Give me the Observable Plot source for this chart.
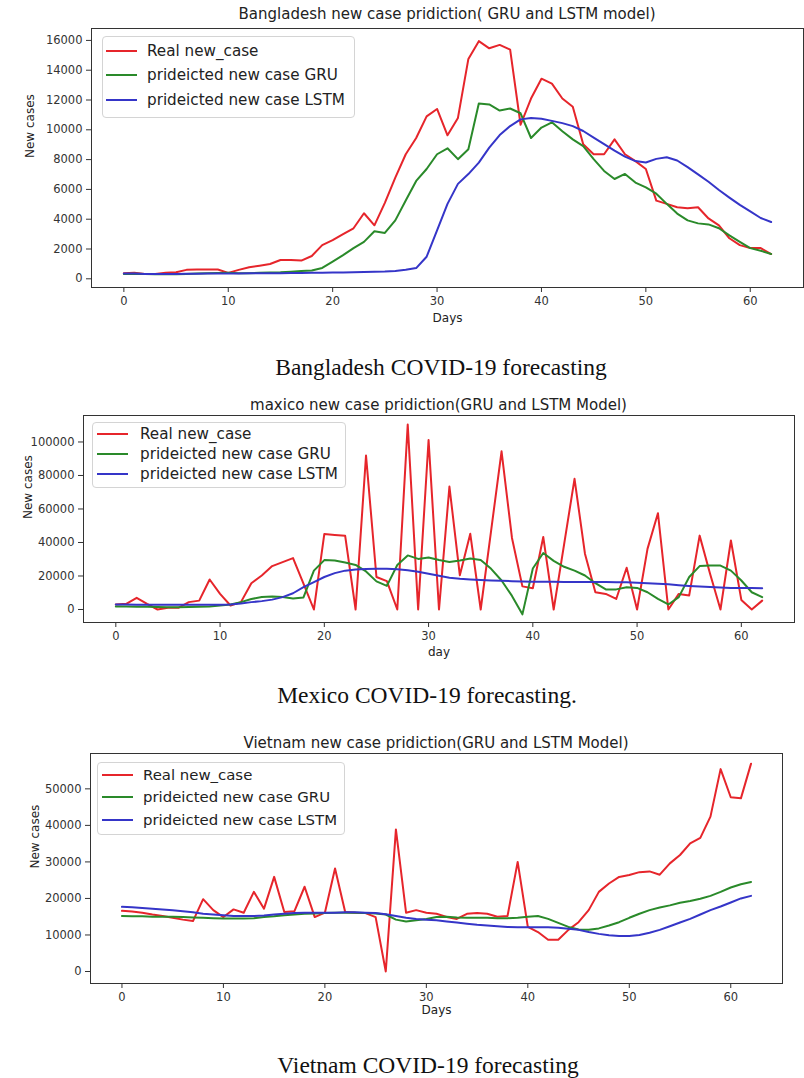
<!DOCTYPE html>
<html><head><meta charset="utf-8">
<script src="https://cdn.jsdelivr.net/npm/d3@7"></script>
<script src="https://cdn.jsdelivr.net/npm/@observablehq/plot@0.6"></script>
<style>
body{margin:0;background:#fff;}
#page{position:relative;width:804px;height:1078px;overflow:hidden;font-family:"DejaVu Sans",sans-serif;color:#222;}
.band{position:absolute;left:0;}
.title{position:absolute;white-space:nowrap;transform:translate(-50%,-50%);font-size:15px;color:#222;}
.caption{position:absolute;white-space:nowrap;transform:translate(-50%,-50%);font-family:"Liberation Serif","Times New Roman",serif;font-size:23.5px;color:#111;}
.legend{position:absolute;background:rgba(255,255,255,0.85);border:1px solid #d4d4d4;border-radius:4px;box-sizing:border-box;}
.lrow{position:absolute;left:0;white-space:nowrap;}
.lsw{position:absolute;height:2px;}
.ltx{position:absolute;transform:translateY(-50%);color:#222;}
</style>
</head><body><div id="page"></div>
<script>
// ---------- data ----------
const days = d3.range(63);
const seriesNames = ["Real new_case", "prideicted new case GRU", "prideicted new case LSTM"];
const colors = ["#e6252b", "#2a8a2a", "#3535c8"];
const xTicks = [0, 10, 20, 30, 40, 50, 60];

const bdReal = [380,400,330,330,400,440,600,620,620,620,400,600,770,880,990,1260,1260,1220,1530,2260,2590,
  3000,3390,4400,3590,5100,6790,8360,9450,10900,11400,9630,10800,14760,15950,15470,15700,15380,10340,12100,13430,
  13100,12100,11550,9030,8360,8360,9360,8360,7900,7370,5250,5030,4800,4730,4800,4050,3590,2720,2260,2060,2060,1660];
const bdGRU = [330,340,330,310,300,310,330,360,380,390,400,370,380,400,420,440,480,520,560,730,1150,
  1590,2060,2480,3190,3080,3920,5250,6570,7370,8360,8760,8030,8700,11770,11700,11290,11430,11110,9450,10150,
  10500,9900,9360,8900,8030,7240,6700,7040,6460,6130,5710,5030,4380,3920,3720,3650,3390,2920,2480,2060,1880,1660];
const bdLSTM = [350,360,330,320,320,330,340,340,350,350,360,360,370,370,380,380,390,390,400,410,420,
  430,440,450,470,490,530,600,720,1480,3250,5030,6370,7030,7800,8800,9650,10250,10700,10800,10740,
  10600,10450,10250,9920,9480,9040,8600,8200,7900,7810,8050,8160,7940,7500,7010,6510,5960,5450,4960,4520,4080,3810];
const bdYTicks = [0,2000,4000,6000,8000,10000,12000,14000,16000];

const mxReal = [3000,3400,7000,3400,0,1000,1000,4400,5300,17900,9300,2400,4400,15700,20300,25900,28300,30700,15400,0,45100,
  44500,44000,0,91900,19400,16900,0,110400,0,101200,0,73400,20400,45200,0,47100,94400,42700,13800,12700,
  43300,0,38900,78000,33300,10300,9300,6300,24900,0,36200,57500,0,9300,8400,44100,21300,0,41200,5700,0,5300];
const mxGRU = [1800,1800,1700,1600,1500,1400,1400,1500,1600,1800,2400,3000,4400,6300,7400,7800,7400,6600,7200,23200,29500,
  29300,28100,26600,22700,16800,14100,26600,32300,30200,31000,29500,28400,29300,30400,29500,24300,17300,8100,-2900,24500,
  33700,29000,25500,23200,20300,15700,12000,12000,13300,12900,10300,6300,3000,7400,19400,25900,26200,26200,23200,17300,10300,7400];
const mxLSTM = [3000,3000,2900,2900,2800,2800,2800,2800,2800,2800,2800,3000,3600,4400,5000,5900,7400,9700,13300,16400,19400,
  21700,23200,23900,24200,24300,24300,24000,23400,22500,21300,20100,18900,18300,17900,17600,17300,17100,16900,16700,16600,
  16500,16500,16400,16400,16400,16400,16400,16300,16200,16000,15700,15400,15000,14500,14100,13700,13400,13100,12900,12800,12800,12700];
const mxYTicks = [0,20000,40000,60000,80000,100000];

const vnReal = [16600,16400,16100,15600,15200,14700,14200,13800,19800,16800,14900,17000,16100,21800,17200,25900,16300,16500,23200,14900,16100,
  28200,16300,16100,16000,14900,0,38900,16100,16800,16100,15800,14900,14400,15800,16000,15800,15000,15200,30000,12200,
  10800,8700,8700,11400,13500,16800,21800,24100,25900,26400,27200,27400,26500,29600,31900,35100,36600,42400,55400,47700,47400,56900];
const vnGRU = [15200,15100,15100,15000,15000,15000,14900,14800,14700,14600,14500,14500,14500,14600,14900,15100,15400,15600,15800,15900,16000,
  16100,16100,16100,16000,15900,15600,14200,13700,14000,14400,14900,15000,14800,14700,14700,14700,14600,14600,14700,15000,
  15200,14400,13300,12200,11500,11400,11800,12600,13500,14700,15800,16800,17500,18100,18800,19300,19900,20700,21800,23000,23900,24500];
const vnLSTM = [17700,17600,17400,17200,17000,16800,16500,16200,15800,15600,15400,15200,15200,15200,15300,15600,15800,16000,16100,16100,16100,
  16100,16200,16200,16100,16000,15700,15200,14700,14400,14200,14000,13700,13400,13100,12800,12600,12400,12200,12100,12100,
  12100,12100,12000,11700,11400,10800,10300,9900,9700,9700,10000,10600,11400,12400,13400,14400,15600,16800,17800,18900,20000,20700];
const vnYTicks = [0,10000,20000,30000,40000,50000];

const charts = [
  {title: "Bangladesh new case pridiction( GRU and LSTM model)", caption: "Bangladesh COVID-19 forecasting",
   series: [bdReal, bdGRU, bdLSTM], yTicks: bdYTicks, xLabel: "Days", yLabel: "New cases"},
  {title: "maxico new case pridiction(GRU and LSTM Model)", caption: "Mexico COVID-19 forecasting.",
   series: [mxReal, mxGRU, mxLSTM], yTicks: mxYTicks, xLabel: "day", yLabel: "New cases"},
  {title: "Vietnam new case pridiction(GRU and LSTM Model)", caption: "Vietnam COVID-19 forecasting",
   series: [vnReal, vnGRU, vnLSTM], yTicks: vnYTicks, xLabel: "Days", yLabel: "New cases"}
];

// ---------- layout ----------
const layout = [
  {top: 0, height: 340, ml: 91, mr: 1, mt: 28, mb: 53, xDomain: [-3.1, 65.1], yDomain: [-584, 16800],
   xLabelDy: 34, yLabelDx: -61, titleXY: [447, 14], captionXY: [441, 367],
   legend: {x: 102, y: 36, w: 253, h: 82, rows: [50.7, 75, 100], lx0: 106, lx1: 137, tx: 147, fs: 15.2}},
  {top: 380, height: 290, ml: 83, mr: 10, mt: 35, mb: 48, xDomain: [-3.1, 65.1], yDomain: [-7760, 115800],
   xLabelDy: 33, yLabelDx: -55, titleXY: [438.5, 405], captionXY: [427, 695],
   legend: {x: 92, y: 422, w: 254, h: 66, rows: [434, 454, 474], lx0: 97, lx1: 128, tx: 140, fs: 15.2}},
  {top: 720, height: 310, ml: 90, mr: 22, mt: 33, mb: 47, xDomain: [-3.1, 65.1], yDomain: [-3285, 59680],
   xLabelDy: 30, yLabelDx: -55, titleXY: [436, 743], captionXY: [428, 1065],
   legend: {x: 97, y: 762, w: 248, h: 73, rows: [775, 797, 820], lx0: 102, lx1: 133, tx: 143, fs: 14.9}}
];

const page = document.getElementById("page");

charts.forEach((c, ci) => {
  const L = layout[ci];
  const marks = [];
  c.series.forEach((vals, k) => {
    const data = vals.map((v, i) => ({day: days[i], value: v}));
    marks.push(Plot.line(data, {x: "day", y: "value", stroke: colors[k], strokeWidth: 2, strokeLinejoin: "round"}));
  });
  marks.push(Plot.frame({stroke: "#333", strokeWidth: 1}));
  marks.push(Plot.axisX({ticks: xTicks, tickSize: 5, tickPadding: 4, tickFormat: d => String(d), label: null}));
  marks.push(Plot.axisY({ticks: c.yTicks, tickSize: 5, tickPadding: 4, tickFormat: d => String(d), label: null}));
  marks.push(Plot.text([c.xLabel], {frameAnchor: "bottom", dy: L.xLabelDy, text: d => d, fontSize: 12, fill: "#222"}));
  marks.push(Plot.text([c.yLabel], {frameAnchor: "left", dx: L.yLabelDx, rotate: -90, text: d => d, fontSize: 12, fill: "#222"}));

  const svg = Plot.plot({
    width: 804, height: L.height,
    marginLeft: L.ml, marginRight: L.mr, marginTop: L.mt, marginBottom: L.mb,
    style: {fontFamily: "DejaVu Sans, sans-serif", fontSize: "11.5px", color: "#333", background: "transparent", overflow: "visible"},
    x: {domain: L.xDomain},
    y: {domain: L.yDomain},
    marks
  });
  const band = document.createElement("div");
  band.className = "band";
  band.style.top = L.top + "px";
  band.appendChild(svg);
  page.appendChild(band);

  const t = document.createElement("div");
  t.className = "title"; t.textContent = c.title;
  t.style.left = L.titleXY[0] + "px"; t.style.top = L.titleXY[1] + "px";
  page.appendChild(t);

  const cap = document.createElement("div");
  cap.className = "caption"; cap.textContent = c.caption;
  cap.style.left = L.captionXY[0] + "px"; cap.style.top = L.captionXY[1] + "px";
  page.appendChild(cap);

  const lg = L.legend;
  const box = document.createElement("div");
  box.className = "legend";
  box.style.left = lg.x + "px"; box.style.top = lg.y + "px";
  box.style.width = lg.w + "px"; box.style.height = lg.h + "px";
  page.appendChild(box);
  seriesNames.forEach((name, k) => {
    const sw = document.createElement("div");
    sw.className = "lsw";
    sw.style.left = lg.lx0 + "px"; sw.style.width = (lg.lx1 - lg.lx0) + "px";
    sw.style.top = (lg.rows[k] - 1) + "px"; sw.style.background = colors[k];
    page.appendChild(sw);
    const tx = document.createElement("div");
    tx.className = "ltx";
    tx.style.left = lg.tx + "px"; tx.style.top = lg.rows[k] + "px";
    tx.style.fontSize = lg.fs + "px";
    tx.textContent = name;
    page.appendChild(tx);
  });
});
</script>
</body></html>
